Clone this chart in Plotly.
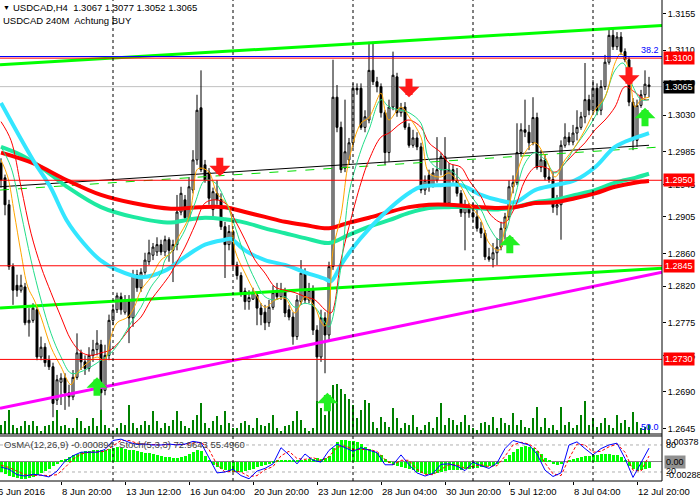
import plotly.graph_objects as go

# ---- H4 candles, bar 0 = 6 Jun 08:00, last bar = 13 Jul 08:00 ----
opens = [1.2971, 1.2953, 1.2920, 1.2844, 1.2821, 1.2815, 1.2819, 1.2775, 1.2778, 1.2791,
         1.2733, 1.2745, 1.2729, 1.2721, 1.2680, 1.2702, 1.2707, 1.2689, 1.2684, 1.2708,
         1.2738, 1.2727, 1.2719, 1.2735, 1.2742, 1.2748, 1.2692, 1.2735, 1.2778, 1.2791,
         1.2807, 1.2788, 1.2803, 1.2781, 1.2834, 1.2818, 1.2837, 1.2850, 1.2858, 1.2862,
         1.2871, 1.2862, 1.2877, 1.2864, 1.2871, 1.2911, 1.2926, 1.2904, 1.2938, 1.2975,
         1.3039, 1.2969, 1.2960, 1.2914, 1.2934, 1.2926, 1.2893, 1.2871, 1.2887, 1.2846,
         1.2833, 1.2814, 1.2801, 1.2804, 1.2809, 1.2793, 1.2788, 1.2775, 1.2794, 1.2814,
         1.2807, 1.2813, 1.2791, 1.2782, 1.2758, 1.2801, 1.2836, 1.2803, 1.2815, 1.2766,
         1.2733, 1.2781, 1.2760, 1.2844, 1.3052, 1.3015, 1.2965, 1.2975, 1.2996, 1.3063,
         1.3063, 1.3015, 1.3024, 1.3085, 1.3071, 1.3065, 1.3033, 1.2984, 1.3040, 1.3077,
         1.3033, 1.3040, 1.3015, 1.2993, 1.3002, 1.2991, 1.2938, 1.2956, 1.2944, 1.2950,
         1.2963, 1.2979, 1.2922, 1.2963, 1.2950, 1.2934, 1.2910, 1.2917, 1.2910, 1.2905,
         1.2891, 1.2885, 1.2856, 1.2853, 1.2861, 1.2868, 1.2891, 1.2905, 1.2942, 1.2947,
         1.2984, 1.3012, 1.3009, 1.2996, 1.3027, 1.2966, 1.2975, 1.2954, 1.2951, 1.2917,
         1.2920, 1.2993, 1.3003, 1.2997, 1.3008, 1.3015, 1.3028, 1.3049, 1.3036, 1.3063,
         1.3036, 1.3065, 1.3095, 1.3128, 1.3114, 1.3126, 1.3108, 1.3098, 1.3046, 1.2999,
         1.3042, 1.3055, 1.3067]
highs = [1.2977, 1.2957, 1.2926, 1.2848, 1.2834, 1.2834, 1.2824, 1.2793, 1.2799, 1.2797,
         1.2758, 1.2750, 1.2735, 1.2726, 1.2711, 1.2713, 1.2713, 1.2699, 1.2717, 1.2762,
         1.2742, 1.2735, 1.2745, 1.2754, 1.2766, 1.2754, 1.2748, 1.2785, 1.2797, 1.2812,
         1.2812, 1.2809, 1.2809, 1.2840, 1.2840, 1.2842, 1.2861, 1.2877, 1.2873, 1.2880,
         1.2877, 1.2882, 1.2880, 1.2877, 1.2932, 1.2942, 1.2932, 1.2954, 1.2987, 1.3055,
         1.3085, 1.2975, 1.2965, 1.2941, 1.2950, 1.2934, 1.2899, 1.2895, 1.2889, 1.2850,
         1.2837, 1.2818, 1.2815, 1.2818, 1.2813, 1.2799, 1.2797, 1.2803, 1.2821, 1.2824,
         1.2824, 1.2818, 1.2797, 1.2788, 1.2809, 1.2852, 1.2842, 1.2824, 1.2821, 1.2772,
         1.2791, 1.2788, 1.2850, 1.3098, 1.3067, 1.3022, 1.3049, 1.3002, 1.3069, 1.3069,
         1.3069, 1.3036, 1.3120, 1.3120, 1.3077, 1.3069, 1.3036, 1.3049, 1.3108, 1.3082,
         1.3045, 1.3046, 1.3020, 1.3012, 1.3009, 1.2996, 1.2956, 1.2963, 1.2965, 1.3003,
         1.2984, 1.3003, 1.2971, 1.2969, 1.2965, 1.2938, 1.2926, 1.2922, 1.2922, 1.2914,
         1.2899, 1.2889, 1.2867, 1.2873, 1.2879, 1.2899, 1.2910, 1.2950, 1.2956, 1.3020,
         1.3020, 1.3049, 1.3018, 1.3052, 1.3033, 1.2987, 1.2981, 1.2965, 1.2960, 1.2932,
         1.2999, 1.3020, 1.3009, 1.3018, 1.3036, 1.3034, 1.3094, 1.3055, 1.3073, 1.3069,
         1.3073, 1.3104, 1.3137, 1.3137, 1.3132, 1.3132, 1.3112, 1.3101, 1.3051, 1.3049,
         1.3061, 1.3085, 1.3077]
lows = [1.2941, 1.2907, 1.2840, 1.2797, 1.2807, 1.2812, 1.2772, 1.2758, 1.2775, 1.2729,
        1.2729, 1.2721, 1.2717, 1.2659, 1.2674, 1.2674, 1.2668, 1.2672, 1.2680, 1.2705,
        1.2717, 1.2711, 1.2715, 1.2727, 1.2735, 1.2652, 1.2686, 1.2729, 1.2772, 1.2787,
        1.2785, 1.2785, 1.2750, 1.2770, 1.2813, 1.2813, 1.2834, 1.2846, 1.2852, 1.2857,
        1.2858, 1.2857, 1.2850, 1.2825, 1.2864, 1.2907, 1.2899, 1.2901, 1.2934, 1.2969,
        1.2960, 1.2947, 1.2920, 1.2904, 1.2920, 1.2889, 1.2830, 1.2864, 1.2842, 1.2828,
        1.2807, 1.2791, 1.2791, 1.2803, 1.2772, 1.2772, 1.2766, 1.2770, 1.2791, 1.2803,
        1.2803, 1.2782, 1.2778, 1.2748, 1.2754, 1.2797, 1.2799, 1.2799, 1.2760, 1.2670,
        1.2727, 1.2713, 1.2754, 1.2840, 1.3009, 1.2959, 1.2960, 1.2969, 1.2990, 1.3055,
        1.3012, 1.3009, 1.3020, 1.3067, 1.3058, 1.3027, 1.2969, 1.2973, 1.3036, 1.3028,
        1.3028, 1.3012, 1.2990, 1.2990, 1.2987, 1.2934, 1.2932, 1.2936, 1.2941, 1.2947,
        1.2956, 1.2918, 1.2918, 1.2947, 1.2930, 1.2905, 1.2864, 1.2904, 1.2899, 1.2887,
        1.2879, 1.2852, 1.2850, 1.2843, 1.2846, 1.2864, 1.2877, 1.2901, 1.2934, 1.2944,
        1.2979, 1.3003, 1.2987, 1.2993, 1.2963, 1.2960, 1.2950, 1.2947, 1.2910, 1.2907,
        1.2877, 1.2990, 1.2993, 1.2993, 1.2999, 1.3012, 1.3020, 1.3030, 1.3034, 1.3030,
        1.3030, 1.3061, 1.3092, 1.3110, 1.3110, 1.3104, 1.3095, 1.3041, 1.2987, 1.2991,
        1.3039, 1.3051, 1.3052]
closes = [1.2950, 1.2920, 1.2844, 1.2815, 1.2815, 1.2821, 1.2775, 1.2778, 1.2793, 1.2733,
          1.2745, 1.2726, 1.2721, 1.2676, 1.2705, 1.2707, 1.2689, 1.2684, 1.2708, 1.2738,
          1.2727, 1.2719, 1.2735, 1.2742, 1.2750, 1.2689, 1.2735, 1.2778, 1.2791, 1.2808,
          1.2791, 1.2803, 1.2781, 1.2834, 1.2818, 1.2837, 1.2852, 1.2861, 1.2868, 1.2871,
          1.2862, 1.2877, 1.2864, 1.2871, 1.2911, 1.2934, 1.2904, 1.2942, 1.2975, 1.3036,
          1.2963, 1.2950, 1.2928, 1.2936, 1.2926, 1.2893, 1.2871, 1.2887, 1.2846, 1.2833,
          1.2812, 1.2801, 1.2806, 1.2812, 1.2793, 1.2785, 1.2775, 1.2794, 1.2812, 1.2807,
          1.2815, 1.2787, 1.2782, 1.2758, 1.2803, 1.2836, 1.2803, 1.2815, 1.2766, 1.2733,
          1.2781, 1.2760, 1.2844, 1.3052, 1.3015, 1.2963, 1.2985, 1.2996, 1.3063, 1.3061,
          1.3015, 1.3028, 1.3085, 1.3071, 1.3065, 1.3033, 1.2984, 1.3040, 1.3079, 1.3033,
          1.3039, 1.3015, 1.2993, 1.3002, 1.2991, 1.2938, 1.2950, 1.2942, 1.2959, 1.2963,
          1.2979, 1.2922, 1.2963, 1.2950, 1.2934, 1.2910, 1.2917, 1.2910, 1.2905, 1.2891,
          1.2885, 1.2856, 1.2853, 1.2861, 1.2868, 1.2891, 1.2905, 1.2942, 1.2947, 1.2984,
          1.3012, 1.3009, 1.2996, 1.3027, 1.2966, 1.2975, 1.2954, 1.2951, 1.2917, 1.2920,
          1.2993, 1.3003, 1.2997, 1.3008, 1.3015, 1.3028, 1.3049, 1.3036, 1.3063, 1.3036,
          1.3065, 1.3095, 1.3128, 1.3114, 1.3126, 1.3108, 1.3098, 1.3046, 1.2999, 1.3042,
          1.3055, 1.3068, 1.3065]
volumes = [180, 260, 480, 180, 120, 160, 260, 180, 260, 160, 60, 160, 180, 260, 480, 160,
           180, 120, 120, 320, 260, 120, 160, 320, 160, 480, 180, 120, 60, 120, 220, 180,
           580, 220, 120, 180, 260, 180, 460, 260, 120,
           220, 160, 280, 460, 260, 160, 120, 280, 380, 620, 220, 120, 260, 360, 180, 460,
           220, 120, 120, 220, 260, 180, 120, 320, 180, 160, 220, 380, 120, 60, 160, 180,
           260, 460, 280, 120, 60, 120, 660, 520, 380, 780, 980, 1000,
           900, 800, 700, 580, 320, 480, 680, 620, 240, 120, 340, 240, 140, 520, 320, 120,
           220, 180, 380, 140, 80, 180, 240, 120, 340, 620, 180, 320, 280, 180, 240, 380,
           180, 120, 80, 220, 240, 180, 340, 120, 320, 220, 180, 420, 180, 280, 140, 120,
           320, 540, 140, 320, 120, 180, 80, 540, 180, 240, 120, 180, 380, 660, 180, 320,
           140, 220, 320, 180, 120, 380, 220, 280, 140, 440, 240, 120, 140, 180]

# ---- moving averages ----
ma_cyan_x = [0, 8, 12.3, 16.4, 20.6, 24.8, 29, 35, 41, 46, 51, 56, 57.5, 61, 66, 71, 76, 81,
             82.5, 85, 87.5, 92.5, 97.5, 102.5, 105, 110, 115, 120, 124, 128.5, 133.5, 138.5,
             143.5, 148.5, 153.5, 158.5, 162]
ma_cyan_y = [1.3045, 1.2975, 1.2942, 1.2901, 1.2873, 1.2852, 1.2840, 1.2831, 1.2839, 1.2856,
             1.2871, 1.2877, 1.2878, 1.2864, 1.2852, 1.2846, 1.2837, 1.2829, 1.2826, 1.2846,
             1.2864, 1.2893, 1.2917, 1.2936, 1.2942, 1.2944, 1.2944, 1.2932, 1.2926, 1.2923,
             1.2938, 1.2944, 1.2950, 1.2966, 1.2991, 1.3002, 1.3008]
ma_red_x = [0, 8, 16.5, 25, 33, 42.5, 49.5, 56, 61, 66, 71, 76, 82, 87, 92, 97, 102, 107, 112,
            117, 123.5, 128.5, 133.5, 138.5, 143.5, 148.5, 153.5, 158.5, 162]
ma_red_y = [1.2984, 1.2971, 1.2950, 1.2932, 1.2922, 1.2915, 1.2917, 1.2917, 1.2911, 1.2905,
            1.2899, 1.2895, 1.2891, 1.2898, 1.2904, 1.2911, 1.2917, 1.2920, 1.2920, 1.2918,
            1.2916, 1.2917, 1.2922, 1.2923, 1.2928, 1.2934, 1.2942, 1.2947, 1.2949]
ma_aqua_x = [0, 5, 10, 16.5, 25, 33, 42.5, 46, 51, 56, 61, 66, 71, 76, 82, 87, 92, 97, 102, 107,
             112, 117, 123.5, 128.5, 133.5, 138.5, 143.5, 148.5, 153.5, 158.5, 162]
ma_aqua_y = [1.2991, 1.2981, 1.2966, 1.2942, 1.2917, 1.2905, 1.2898, 1.2901, 1.2904, 1.2902,
             1.2898, 1.2891, 1.2885, 1.2879, 1.2873, 1.2883, 1.2893, 1.2901, 1.2910, 1.2916,
             1.2917, 1.2917, 1.2914, 1.2917, 1.2923, 1.2926, 1.2932, 1.2938, 1.2947, 1.2953,
             1.2958]
ma_thin_red_x = [0, 2.5, 5, 7.5, 10, 12.5, 15, 17.5, 20, 22.5, 25, 27.5, 30, 32.5, 35, 37.5, 40,
                 42.5, 44, 46, 48.5, 51, 53.5, 56, 58.5, 61, 63.5, 66, 68.5, 71, 73.5, 76, 78.5,
                 81, 82.5, 85, 87, 90, 92, 95, 97, 100, 102, 105, 107, 110, 112, 115, 117, 120,
                 122, 124.5, 126, 128.5, 131, 133.5, 136, 138.5, 141, 143.5, 146, 148.5, 151,
                 153.5, 156, 158.5, 161, 162]
ma_thin_red_y = [1.3022, 1.2999, 1.2942, 1.2885, 1.2844, 1.2812, 1.2782, 1.2754, 1.2739, 1.2735,
                 1.2738, 1.2742, 1.2754, 1.2770, 1.2782, 1.2803, 1.2819, 1.2836, 1.2850, 1.2868,
                 1.2895, 1.2922, 1.2926, 1.2922, 1.2901, 1.2877, 1.2852, 1.2836, 1.2819, 1.2815,
                 1.2812, 1.2807, 1.2803, 1.2791, 1.2787, 1.2852, 1.2893, 1.2947, 1.2975, 1.3003,
                 1.3008, 1.3020, 1.3024, 1.3015, 1.2996, 1.2984, 1.2971, 1.2966, 1.2950, 1.2930,
                 1.2910, 1.2899, 1.2898, 1.2917, 1.2950, 1.2966, 1.2966, 1.2960, 1.2971, 1.2984,
                 1.2996, 1.3012, 1.3024, 1.3040, 1.3065, 1.3058, 1.3049, 1.3049]
ma_orange_x = [0, 1.7, 3.3, 5, 6.7, 8.3, 10, 12.5, 15, 17.5, 19, 21.7, 24, 25.8, 27.5, 29, 31.7,
               33.3, 35, 37.5, 40, 42.5, 44, 47, 48, 49, 50, 52, 54, 57, 58.5, 61, 63.5, 66, 68.5,
               71, 73.5, 76, 78.5, 80, 81, 82, 83, 85, 87, 90, 92, 95, 96, 97, 100, 102, 105, 107,
               110, 112, 115, 117, 120, 122, 124.5, 126, 128.5, 131, 133.5, 136, 138.5, 141,
               143.5, 146, 148.5, 151, 153.5, 155, 157, 158.5, 160, 162]
ma_orange_y = [1.2975, 1.2954, 1.2910, 1.2861, 1.2819, 1.2803, 1.2782, 1.2745, 1.2721, 1.2699,
               1.2713, 1.2726, 1.2733, 1.2729, 1.2758, 1.2775, 1.2782, 1.2794, 1.2815, 1.2831,
               1.2852, 1.2861, 1.2877, 1.2905, 1.2932, 1.2963, 1.2965, 1.2960, 1.2934, 1.2917,
               1.2864, 1.2836, 1.2812, 1.2794, 1.2803, 1.2805, 1.2787, 1.2807, 1.2794, 1.2776,
               1.2771, 1.2791, 1.2864, 1.2907, 1.2975, 1.3020, 1.3027, 1.3057, 1.3036, 1.3024,
               1.3040, 1.3028, 1.3003, 1.2959, 1.2954, 1.2959, 1.2942, 1.2922, 1.2901, 1.2873,
               1.2864, 1.2893, 1.2950, 1.2984, 1.2996, 1.2979, 1.2954, 1.2975, 1.2991, 1.3012,
               1.3036, 1.3052, 1.3094, 1.3106, 1.3085, 1.3040, 1.3049, 1.3052]
ma_green_x = [0, 2.5, 5, 7.5, 10, 12.5, 15, 17.5, 20, 22.5, 25, 27.5, 30, 32.5, 35, 37.5, 40, 41,
              43.5, 46, 48.5, 51, 53.5, 56, 58.5, 61, 63.5, 66, 68.5, 71, 73.5, 76, 78.5, 81, 82,
              85, 87, 90, 92, 95, 97, 100, 102, 105, 107, 110, 112, 115, 117, 120, 122, 124.5,
              126, 128.5, 131, 133.5, 136, 138.5, 141, 143.5, 146, 148.5, 151, 153.5, 155.5, 158,
              160, 162]
ma_green_y = [1.2991, 1.2966, 1.2910, 1.2852, 1.2803, 1.2762, 1.2733, 1.2713, 1.2715, 1.2721,
              1.2729, 1.2738, 1.2754, 1.2775, 1.2794, 1.2819, 1.2836, 1.2852, 1.2868, 1.2889,
              1.2922, 1.2950, 1.2947, 1.2926, 1.2893, 1.2856, 1.2828, 1.2807, 1.2803, 1.2807,
              1.2794, 1.2799, 1.2794, 1.2775, 1.2770, 1.2844, 1.2934, 1.2987, 1.3012, 1.3049,
              1.3040, 1.3036, 1.3033, 1.3020, 1.2975, 1.2963, 1.2963, 1.2950, 1.2934, 1.2914,
              1.2893, 1.2877, 1.2885, 1.2930, 1.2971, 1.2984, 1.2975, 1.2959, 1.2971, 1.2991,
              1.3008, 1.3028, 1.3052, 1.3085, 1.3094, 1.3065, 1.3049, 1.3049]

# ---- drawn objects ----
levels_red = [1.3100, 1.2950, 1.2845, 1.2730]
fib_382 = 1.3102
bid_price = 1.3065
edge_x = [-0.25, 165.25]
chan_upper_y = [1.3092, 1.3140]
chan_mid_x = [-0.25, 162]
chan_mid_y = [1.2942, 1.2993]
chan_mid_dash_y = [1.2938, 1.2991]
chan_lower_y = [1.2793, 1.2842]
magenta_y = [1.2670, 1.2837]
week_starts = [28, 58, 88, 118, 148]
# arrow tips
sell_x = [54.7, 102, 157]
sell_y = [1.2955, 1.3052, 1.3066]
buy_x = [24, 81.6, 127.2, 161]
buy_y = [1.2708, 1.2689, 1.2883, 1.3039]

# ---- OsMA / Stochastic window ----
osma = [-0.00148, -0.00178, -0.00207, -0.00222, -0.00237, -0.00252, -0.00252, -0.00237, -0.00222, -0.00192,
        -0.00163, -0.00133, -0.00104, -0.00059, -0.00030, 0.00015, 0.00044, 0.00074, 0.00104, 0.00118,
        0.00148, 0.00163, 0.00163, 0.00178, 0.00178, 0.00178, 0.00178, 0.00192, 0.00207, 0.00222,
        0.00207, 0.00192, 0.00178, 0.00178, 0.00163, 0.00148, 0.00133, 0.00133, 0.00118, 0.00104,
        0.00089, 0.00074, 0.00074, 0.00059, 0.00059, 0.00074, 0.00089, 0.00118, 0.00148, 0.00178,
        0.00163, 0.00089, 0.00015, -0.00044, -0.00074, -0.00104, -0.00118, -0.00133, -0.00148, -0.00148,
        -0.00148, -0.00133, -0.00118, -0.00104, -0.00074, -0.00059, -0.00044, -0.00030, -0.00015, 0.00015,
        0.00015, 0.00015, 0.00030, 0.00015, 0.00015, 0.00030, 0.00030, 0.00044, 0.00044, 0.00059,
        0.00044, 0.00059, 0.00089, 0.00207, 0.00296, 0.00326, 0.00326, 0.00311, 0.00311, 0.00296,
        0.00266, 0.00222, 0.00192, 0.00163, 0.00133, 0.00104, 0.00044, -0.00015, -0.00044, -0.00059,
        -0.00074, -0.00089, -0.00104, -0.00118, -0.00148, -0.00163, -0.00178, -0.00178, -0.00178, -0.00163,
        -0.00148, -0.00133, -0.00118, -0.00118, -0.00118, -0.00118, -0.00104, -0.00104, -0.00089, -0.00089,
        -0.00074, -0.00074, -0.00059, -0.00059, -0.00030, 0.00000, 0.00044, 0.00104, 0.00148, 0.00192,
        0.00222, 0.00237, 0.00222, 0.00207, 0.00163, 0.00118, 0.00059, 0.00015, -0.00030, -0.00044,
        -0.00030, 0.00000, 0.00030, 0.00044, 0.00059, 0.00074, 0.00089, 0.00089, 0.00104, 0.00104,
        0.00118, 0.00118, 0.00118, 0.00104, 0.00104, 0.00074, 0.00015, -0.00059, -0.00104, -0.00133,
        -0.00118, -0.00104, -0.000894]
stoch_x = list(range(0, 163, 2))
stoch_main = [31, 26, 14, 11, 15, 13, 9, 22, 44, 56, 64, 64, 64, 70, 90, 93, 86, 81, 82, 80,
              80, 82, 80, 82, 88, 85, 52, 18, 20, 26, 12, 5, 22, 28, 38, 74, 58, 38, 60, 46,
              42, 68, 82, 74, 66, 74, 68, 63, 36, 36, 58, 36, 18, 11, 17, 37, 38, 33, 23, 42,
              34, 28, 40, 72, 90, 85, 80, 60, 24, 10, 18, 80, 87, 72, 58, 72, 80, 84, 50, 8,
              40, 72.9643]
stoch_signal = [35, 30, 22, 14, 12, 13, 12, 14, 30, 48, 60, 64, 64, 66, 78, 90, 90, 84, 82, 81,
                80, 81, 81, 81, 84, 86, 70, 36, 20, 22, 20, 10, 12, 25, 32, 56, 66, 50, 48, 52,
                45, 54, 75, 78, 70, 70, 70, 66, 48, 36, 46, 46, 26, 15, 14, 26, 36, 36, 28, 33,
                36, 32, 34, 55, 80, 86, 82, 70, 40, 16, 12, 50, 82, 80, 64, 66, 76, 82, 64, 24,
                22, 55.4960]

# ---- axis labels ----
price_ticks = [1.3155, 1.3110, 1.3070, 1.3030, 1.2985, 1.2945, 1.2905, 1.2860, 1.2820,
               1.2775, 1.2735, 1.2690, 1.2645]
time_tick_bars = [-1, 15, 31, 47, 63, 79, 95, 111, 127, 143, 159]
time_tick_text = ['6 Jun 2016', '8 Jun 20:00', '13 Jun 12:00', '16 Jun 04:00', '20 Jun 20:00',
                  '23 Jun 12:00', '28 Jun 04:00', '30 Jun 20:00', '5 Jul 12:00', '8 Jul 04:00',
                  '12 Jul 20:00']

FONT = 'Liberation Sans, Arial, sans-serif'
FS = 9
bars = list(range(len(closes)))

fig = go.Figure()

fig.add_trace(go.Bar(x=bars, y=volumes, width=0.3, marker=dict(color='#008000', line=dict(width=0)),
                     xaxis='x', yaxis='y2'))

for xs, ys, col, dash, w in [
        (edge_x, chan_upper_y, '#00ff00', 'solid', 3),
        (edge_x, chan_lower_y, '#00ff00', 'solid', 3),
        (edge_x, magenta_y, '#ff00ff', 'solid', 3),
        (edge_x, chan_mid_dash_y, '#00dd00', 'dash', 1),
        (chan_mid_x, chan_mid_y, '#000000', 'solid', 1)]:
    fig.add_trace(go.Scatter(x=xs, y=ys, mode='lines', line=dict(color=col, width=w, dash=dash),
                             xaxis='x', yaxis='y'))

fig.add_trace(go.Candlestick(x=bars, open=opens, high=highs, low=lows, close=closes,
                             increasing=dict(line=dict(color='black', width=1), fillcolor='white'),
                             decreasing=dict(line=dict(color='black', width=1), fillcolor='black'),
                             whiskerwidth=0, xaxis='x', yaxis='y'))

for xs, ys, col, w in [
        (ma_aqua_x, ma_aqua_y, '#1de9a0', 4),
        (ma_red_x, ma_red_y, '#ff0000', 4),
        (ma_cyan_x, ma_cyan_y, '#33e6ff', 4),
        (ma_thin_red_x, ma_thin_red_y, '#ff0000', 1),
        (ma_green_x, ma_green_y, '#22dd88', 1),
        (ma_orange_x, ma_orange_y, '#ffa500', 1)]:
    fig.add_trace(go.Scatter(x=xs, y=ys, mode='lines', line=dict(color=col, width=w, shape='spline'),
                             xaxis='x', yaxis='y'))

# sub window
fig.add_trace(go.Bar(x=bars, y=osma, width=0.75, marker=dict(color='#00ff00', line=dict(width=0)),
                     xaxis='x2', yaxis='y3'))
fig.add_trace(go.Scatter(x=stoch_x, y=stoch_signal, mode='lines',
                         line=dict(color='#ff0000', width=1, dash='3px,2px'), xaxis='x2', yaxis='y4'))
fig.add_trace(go.Scatter(x=stoch_x, y=stoch_main, mode='lines',
                         line=dict(color='#0000ff', width=1), xaxis='x2', yaxis='y4'))

shapes = []
for lv in levels_red:
    shapes.append(dict(type='line', xref='x domain', yref='y', x0=0, x1=1, y0=lv, y1=lv,
                       line=dict(color='#ff0000', width=1)))
shapes.append(dict(type='line', xref='x domain', yref='y', x0=0, x1=1, y0=fib_382, y1=fib_382,
                   line=dict(color='#0000ff', width=1)))
shapes.append(dict(type='line', xref='x domain', yref='y', x0=0, x1=1, y0=bid_price, y1=bid_price,
                   line=dict(color='#c0c0c0', width=1), layer='below'))
for wb in week_starts:
    shapes.append(dict(type='line', xref='x', yref='paper', x0=wb, x1=wb, y0=0, y1=1,
                       line=dict(color='black', width=1, dash='3px,3px')))
for lv in [80, 20]:
    shapes.append(dict(type='line', xref='x2 domain', yref='y4', x0=0, x1=1, y0=lv, y1=lv,
                       line=dict(color='#b0b0b0', width=1, dash='3px,3px'), layer='below'))
shapes.append(dict(type='line', xref='x2 domain', yref='y3', x0=0, x1=1, y0=0, y1=0,
                   line=dict(color='#808080', width=1), layer='below'))
# window frames
for y0 in [0.0977, 0.0936, 0.0]:
    shapes.append(dict(type='line', xref='paper', yref='paper', x0=0, x1=1, y0=y0, y1=y0,
                       line=dict(color='black', width=1)))
shapes.append(dict(type='line', xref='paper', yref='paper', x0=1, x1=1, y0=0, y1=1,
                   line=dict(color='black', width=1)))

ann = []
# signal arrows (thick MT4 style: wide head, short thick shaft)
for bx, by in zip(sell_x, sell_y):
    ann.append(dict(xref='x', yref='y', x=bx, y=by, ax=0, ay=-20, text='', showarrow=True,
                    arrowhead=1, arrowsize=0.5, arrowwidth=7, arrowcolor='#ff1a1a'))
for bx, by in zip(buy_x, buy_y):
    ann.append(dict(xref='x', yref='y', x=bx, y=by, ax=0, ay=20, text='', showarrow=True,
                    arrowhead=1, arrowsize=0.5, arrowwidth=7, arrowcolor='#22f022'))

ann.append(dict(xref='paper', yref='paper', x=0, y=1, xanchor='left', yanchor='top', xshift=1, yshift=-2,
                text='▼', showarrow=False, font=dict(family=FONT, size=7, color='black')))
ann.append(dict(xref='paper', yref='paper', x=0, y=1, xanchor='left', yanchor='top', xshift=11, yshift=0,
                text='USDCAD,H4  1.3067 1.3077 1.3052 1.3065', showarrow=False,
                font=dict(family=FONT, size=9.5, color='black')))
ann.append(dict(xref='paper', yref='paper', x=0, y=1, xanchor='left', yanchor='top', xshift=1, yshift=-13,
                text='USDCAD 240M  Achtung BUY', showarrow=False,
                font=dict(family=FONT, size=9.5, color='black')))
ann.append(dict(xref='paper', yref='y', x=1, y=fib_382, xanchor='right', yanchor='bottom', xshift=-1,
                text='38.2', showarrow=False, font=dict(family=FONT, size=FS, color='#0000ff')))
ann.append(dict(xref='paper', yref='y', x=1, y=1.2639, xanchor='right', yanchor='bottom', xshift=-1,
                text='50.0', showarrow=False, font=dict(family=FONT, size=FS, color='#0000ff')))
for lv in levels_red:
    ann.append(dict(xref='paper', yref='y', x=1, y=lv, xanchor='left', yanchor='middle', xshift=1,
                    text='%.4f' % lv, showarrow=False, bgcolor='#ff0000', borderpad=1,
                    font=dict(family=FONT, size=FS, color='white')))
ann.append(dict(xref='paper', yref='y', x=1, y=bid_price, xanchor='left', yanchor='middle', xshift=1,
                text='%.4f' % bid_price, showarrow=False, bgcolor='#000000', borderpad=1,
                font=dict(family=FONT, size=FS, color='white')))
ann.append(dict(xref='paper', yref='paper', x=0, y=0.0936, xanchor='left', yanchor='top', xshift=2, yshift=-1,
                text='OsMA(12,26,9) -0.000894  Stoch(5,3,3) 72.9643 55.4960', showarrow=False,
                font=dict(family=FONT, size=9.5, color='#404040')))
for txt, yv in [('0.00378', 86), ('80', 80), ('0.00', 43), ('20', 22), ('-0.00288', 14)]:
    ann.append(dict(xref='paper', yref='y4', x=1, y=yv, xanchor='left', yanchor='middle', xshift=2,
                    text=txt, showarrow=False, bgcolor='#909090' if txt == '0.00' else None,
                    font=dict(family=FONT, size=FS, color='black')))
# first date label sits at the very left edge, partly cut like the original
ann.append(dict(xref='paper', yref='paper', x=0, y=0, xanchor='left', yanchor='top', xshift=-4, yshift=-3,
                text=time_tick_text[0], showarrow=False, font=dict(family=FONT, size=9.5, color='black')))
for tb, tt in zip(time_tick_bars[1:], time_tick_text[1:]):
    ann.append(dict(xref='x2', yref='paper', x=tb, y=0, xanchor='left', yanchor='top', xshift=-1, yshift=-3,
                    text=tt, showarrow=False, font=dict(family=FONT, size=9.5, color='black')))

fig.update_layout(
    width=700, height=503,
    margin=dict(l=0, r=38, t=0, b=22),
    paper_bgcolor='white', plot_bgcolor='white',
    showlegend=False, hovermode=False, bargap=0,
    font=dict(family=FONT, size=FS, color='black'),
    shapes=shapes, annotations=ann,
    xaxis=dict(domain=[0, 1], range=[-0.25, 165.25], showticklabels=False, showgrid=False,
               zeroline=False, anchor='y', rangeslider=dict(visible=False), fixedrange=True),
    xaxis2=dict(domain=[0, 1], range=[-0.25, 165.25], matches='x', anchor='y3', showgrid=False,
                zeroline=False, ticks='outside', ticklen=3, tickcolor='black',
                tickvals=time_tick_bars[1:], showticklabels=False),
    yaxis=dict(domain=[0.0977, 1], range=[1.26384, 1.31714], side='right', anchor='x',
               showgrid=False, zeroline=False, ticks='outside', ticklen=3, tickcolor='black',
               ticklabelstandoff=0,
               tickvals=price_ticks, ticktext=['%.4f' % p for p in price_ticks],
               tickfont=dict(family=FONT, size=FS, color='black')),
    yaxis2=dict(overlaying='y', range=[0, 8700], visible=False),
    yaxis3=dict(domain=[0, 0.0936], range=[-0.00288, 0.00378], anchor='x2', visible=False),
    yaxis4=dict(overlaying='y3', range=[0, 100], visible=False),
)

# the page's default 8px body margin would push the chart off the window edge
fig.write_html('out.html', config={'displayModeBar': False},
               post_script="document.body.style.margin='0px';")
